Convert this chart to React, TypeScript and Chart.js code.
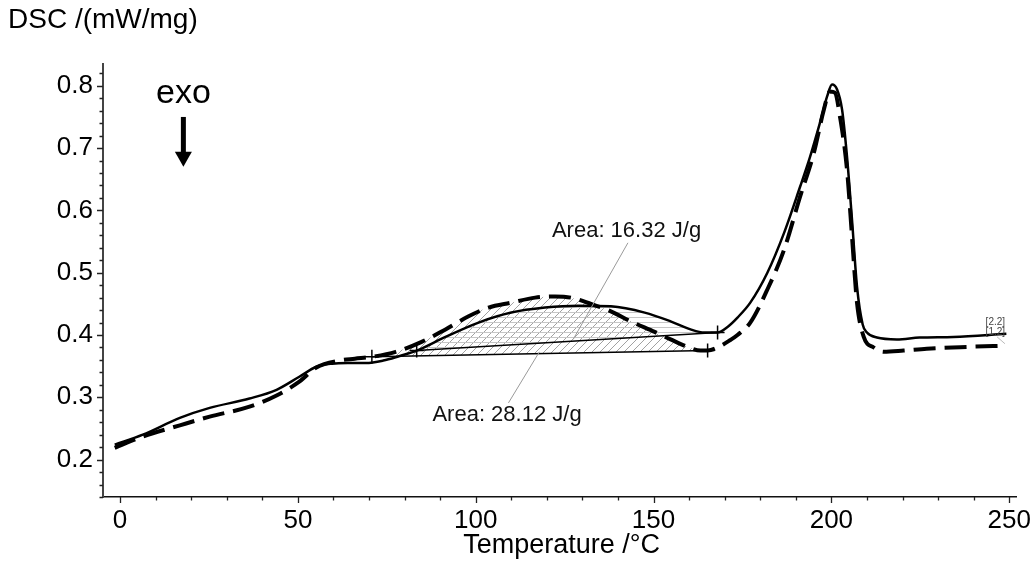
import React, { useEffect, useRef } from 'react';
import { Chart, registerables } from 'chart.js';
Chart.register(...registerables);

// ---- data ----
const solidX = [-1.5, 6.4, 16.8, 25.2, 36.4, 44.0, 50.4, 55.2, 59.6, 64.0, 69.1, 74.0, 78.4, 83.4, 91.5, 100.8, 110.0, 119.5, 128.8, 138.0, 147.5, 154.8, 160.4, 164.3, 168.0, 170.8, 173.6, 177.2, 182.0, 186.7, 191.2, 194.0, 196.8, 198.8, 200.2, 201.6, 203.0, 204.4, 205.8, 207.2, 208.8, 210.0, 212.8, 218.4, 224.8, 234.3, 249.2];
const solidY = [0.224, 0.240, 0.267, 0.283, 0.298, 0.312, 0.333, 0.349, 0.354, 0.355, 0.355, 0.359, 0.366, 0.375, 0.397, 0.420, 0.436, 0.444, 0.447, 0.446, 0.436, 0.422, 0.409, 0.404, 0.404, 0.413, 0.428, 0.452, 0.500, 0.564, 0.638, 0.686, 0.741, 0.783, 0.802, 0.794, 0.762, 0.686, 0.585, 0.478, 0.417, 0.404, 0.396, 0.393, 0.396, 0.397, 0.402];

const dashX = [-1.5, 6.4, 16.8, 25.2, 36.4, 44.0, 50.4, 55.2, 61.6, 66.0, 70.8, 77.5, 84.8, 91.5, 98.0, 103.6, 110.0, 116.7, 122.3, 126.8, 132.4, 138.0, 143.6, 150.3, 154.8, 159.6, 163.2, 165.2, 168.0, 171.6, 173.6, 177.2, 182.0, 186.7, 191.2, 195.1, 197.9, 199.6, 201.0, 202.4, 204.4, 205.8, 207.2, 209.1, 211.9, 214.7, 220.3, 226.8, 238.8, 249.2];
const dashY = [0.219, 0.237, 0.255, 0.269, 0.285, 0.303, 0.325, 0.348, 0.359, 0.362, 0.365, 0.373, 0.389, 0.409, 0.430, 0.444, 0.452, 0.460, 0.462, 0.460, 0.450, 0.438, 0.422, 0.405, 0.393, 0.381, 0.375, 0.375, 0.380, 0.392, 0.400, 0.420, 0.473, 0.537, 0.622, 0.693, 0.762, 0.791, 0.789, 0.751, 0.665, 0.558, 0.452, 0.397, 0.380, 0.373, 0.375, 0.378, 0.381, 0.383];

// integration baselines
const solidBaseX = [83.4, 168.0];
const solidBaseY = [0.375, 0.404];
const dashBaseX = [70.8, 165.2];
const dashBaseY = [0.365, 0.375];

// annotations
const areaLabels = ['Area: 16.32 J/g', 'Area: 28.12 J/g'];
const areaLabelX = [142.4, 108.8];
const areaLabelY = [0.567, 0.272];
const leaderFromX = [142.8, 109.2];
const leaderFromY = [0.548, 0.291];
const leaderToX = [127.4, 117.9];
const leaderToY = [0.393, 0.373];

const curveTags = ['[2.2]', '[1.2]'];
const curveTagX = [246.1, 246.1];
const curveTagY = [0.421, 0.404];

const exoX = 17.8;
const exoTextY = 0.772;
const exoArrowTop = 0.750;
const exoArrowHeadBase = 0.694;
const exoArrowTip = 0.670;

const xMin = -4.8;
const xMax = 252;
const yMin = 0.14;
const yMax = 0.835;

const FONT = "'Liberation Sans', Arial, sans-serif";

const toPts = (xs: number[], ys: number[]) => xs.map((x, i) => ({ x, y: ys[i] }));
const subset = (xs: number[], ys: number[], a: number, b: number) =>
  toPts(xs, ys).filter((p) => p.x >= a - 1e-9 && p.x <= b + 1e-9);

function makePattern(ctx: CanvasRenderingContext2D, kind: 'diag' | 'horiz') {
  const c = document.createElement('canvas');
  const s = kind === 'diag' ? 8 : 5;
  c.width = s;
  c.height = s;
  const g = c.getContext('2d')!;
  g.lineWidth = 1;
  if (kind === 'diag') {
    g.strokeStyle = '#a2a2a2';
    g.beginPath();
    g.moveTo(0, s);
    g.lineTo(s, 0);
    g.moveTo(-2, 2);
    g.lineTo(2, -2);
    g.moveTo(s - 2, s + 2);
    g.lineTo(s + 2, s - 2);
    g.stroke();
  } else {
    g.strokeStyle = '#c6c6c6';
    g.beginPath();
    g.moveTo(0, 2.5);
    g.lineTo(s, 2.5);
    g.stroke();
  }
  return ctx.createPattern(c, 'repeat')!;
}

const isMult = (v: number, m: number) => Math.abs(v / m - Math.round(v / m)) < 1e-6;

const decorPlugin = {
  id: 'decor',
  afterDraw(chart: any) {
    const { ctx, chartArea, scales } = chart;
    const xs = scales.x;
    const ys = scales.y;
    ctx.save();
    // tick marks
    ctx.strokeStyle = '#222';
    ctx.lineWidth = 1.3;
    ctx.beginPath();
    xs.ticks.forEach((t: any) => {
      const px = Math.round(xs.getPixelForValue(t.value)) + 0.5;
      const len = isMult(t.value, 50) ? 6 : 3.5;
      ctx.moveTo(px, chartArea.bottom);
      ctx.lineTo(px, chartArea.bottom + len);
    });
    ys.ticks.forEach((t: any) => {
      const py = Math.round(ys.getPixelForValue(t.value)) + 0.5;
      const len = isMult(t.value, 0.1) ? 6 : 3.5;
      ctx.moveTo(chartArea.left, py);
      ctx.lineTo(chartArea.left - len, py);
    });
    ctx.stroke();

    // axis titles
    ctx.fillStyle = '#000';
    ctx.textBaseline = 'alphabetic';
    ctx.textAlign = 'left';
    ctx.font = `28px ${FONT}`;
    ctx.fillText('DSC /(mW/mg)', 8, 28);
    ctx.textAlign = 'center';
    ctx.font = `27px ${FONT}`;
    ctx.fillText('Temperature /°C', (chartArea.left + chartArea.right) / 2 + 2, 553);

    // exo arrow
    const ex = xs.getPixelForValue(exoX);
    ctx.font = `34px ${FONT}`;
    ctx.fillText('exo', ex, ys.getPixelForValue(exoTextY));
    ctx.lineWidth = 5;
    ctx.strokeStyle = '#000';
    ctx.beginPath();
    ctx.moveTo(ex, ys.getPixelForValue(exoArrowTop));
    ctx.lineTo(ex, ys.getPixelForValue(exoArrowHeadBase) + 1);
    ctx.stroke();
    ctx.beginPath();
    ctx.moveTo(ex - 8.5, ys.getPixelForValue(exoArrowHeadBase));
    ctx.lineTo(ex + 8.5, ys.getPixelForValue(exoArrowHeadBase));
    ctx.lineTo(ex, ys.getPixelForValue(exoArrowTip));
    ctx.closePath();
    ctx.fill();

    // leader lines
    ctx.strokeStyle = '#9a9a9a';
    ctx.lineWidth = 1;
    ctx.beginPath();
    for (let i = 0; i < areaLabels.length; i++) {
      ctx.moveTo(xs.getPixelForValue(leaderFromX[i]), ys.getPixelForValue(leaderFromY[i]));
      ctx.lineTo(xs.getPixelForValue(leaderToX[i]), ys.getPixelForValue(leaderToY[i]));
    }
    ctx.stroke();
    ctx.font = `22px ${FONT}`;
    ctx.textBaseline = 'middle';
    ctx.fillStyle = '#111';
    for (let i = 0; i < areaLabels.length; i++) {
      ctx.fillText(areaLabels[i], xs.getPixelForValue(areaLabelX[i]), ys.getPixelForValue(areaLabelY[i]));
    }

    // curve tags
    ctx.font = `10px ${FONT}`;
    ctx.fillStyle = '#444';
    for (let i = 0; i < curveTags.length; i++) {
      ctx.fillText(curveTags[i], xs.getPixelForValue(curveTagX[i]), ys.getPixelForValue(curveTagY[i]));
    }
    ctx.strokeStyle = '#aaa';
    ctx.lineWidth = 0.8;
    ctx.beginPath();
    ctx.moveTo(xs.getPixelForValue(246.6), ys.getPixelForValue(0.397));
    ctx.lineTo(xs.getPixelForValue(248.8), ys.getPixelForValue(0.386));
    ctx.stroke();
    ctx.restore();
  },
};

export default function App() {
  const ref = useRef<HTMLCanvasElement | null>(null);
  useEffect(() => {
    const canvas = ref.current!;
    const ctx = canvas.getContext('2d')!;
    const diag = makePattern(ctx, 'diag');
    const horiz = makePattern(ctx, 'horiz');
    const common = { pointRadius: 0, cubicInterpolationMode: 'monotone' as const };
    const chart = new Chart(ctx, {
      type: 'line',
      data: {
        datasets: [
          {
            label: '[2.2]',
            data: toPts(solidX, solidY),
            borderColor: '#000',
            borderWidth: 2.5,
            fill: false,
            ...common,
          },
          {
            label: '[1.2]',
            data: toPts(dashX, dashY),
            borderColor: '#000',
            borderWidth: 4,
            borderDash: [22, 9],
            fill: false,
            ...common,
          },
          {
            label: 'base 2.2',
            data: toPts(solidBaseX, solidBaseY),
            borderColor: '#000',
            borderWidth: 1.5,
            pointStyle: 'cross',
            pointRadius: 7,
            pointBorderWidth: 1.5,
            pointBorderColor: '#000',
            fill: false,
          },
          {
            label: 'base 1.2',
            data: toPts(dashBaseX, dashBaseY),
            borderColor: '#000',
            borderWidth: 1.5,
            pointStyle: 'cross',
            pointRadius: 7,
            pointBorderWidth: 1.5,
            pointBorderColor: '#000',
            fill: false,
          },
          {
            label: 'area 2.2',
            data: subset(solidX, solidY, solidBaseX[0], solidBaseX[1]),
            borderColor: 'transparent',
            borderWidth: 0,
            backgroundColor: horiz,
            fill: 2,
            ...common,
          },
          {
            label: 'area 1.2',
            data: subset(dashX, dashY, dashBaseX[0], dashBaseX[1]),
            borderColor: 'transparent',
            borderWidth: 0,
            backgroundColor: diag,
            fill: 3,
            ...common,
          },
        ],
      },
      options: {
        responsive: false,
        animation: false,
        events: [],
        layout: { padding: { top: 64, right: 13, left: 0, bottom: 0 } },
        plugins: { legend: { display: false }, tooltip: { enabled: false }, filler: { propagate: false } },
        scales: {
          x: {
            type: 'linear',
            position: 'bottom',
            min: xMin,
            max: xMax,
            afterFit: (s: any) => { s.height = 66; },
            grid: { display: true, drawOnChartArea: false, drawTicks: true, tickLength: 6, tickColor: 'transparent' },
            border: { display: true, color: '#111', width: 1.5 },
            ticks: {
              stepSize: 10,
              autoSkip: false,
              maxRotation: 0,
              includeBounds: false,
              padding: 2,
              color: '#000',
              font: { family: FONT, size: 26 },
              callback: (v: any) => (isMult(Number(v), 50) ? String(Math.round(Number(v))) : ''),
            },
          },
          y: {
            type: 'linear',
            min: yMin,
            max: yMax,
            afterFit: (s: any) => { s.width = 103; },
            grid: { display: true, drawOnChartArea: false, drawTicks: true, tickLength: 6, tickColor: 'transparent' },
            border: { display: true, color: '#444', width: 2 },
            ticks: {
              stepSize: 0.02,
              autoSkip: false,
              includeBounds: false,
              padding: 4,
              color: '#000',
              font: { family: FONT, size: 26 },
              callback: (v: any) => (isMult(Number(v), 0.1) ? Number(v).toFixed(1) : ''),
            },
          },
        },
      },
      plugins: [decorPlugin],
    });
    return () => chart.destroy();
  }, []);
  return (
    <div style={{ position: 'fixed', left: 0, top: 0, width: 1033, height: 563, background: '#fff' }}>
      <canvas ref={ref} width={1033} height={563} style={{ display: 'block' }} />
    </div>
  );
}
